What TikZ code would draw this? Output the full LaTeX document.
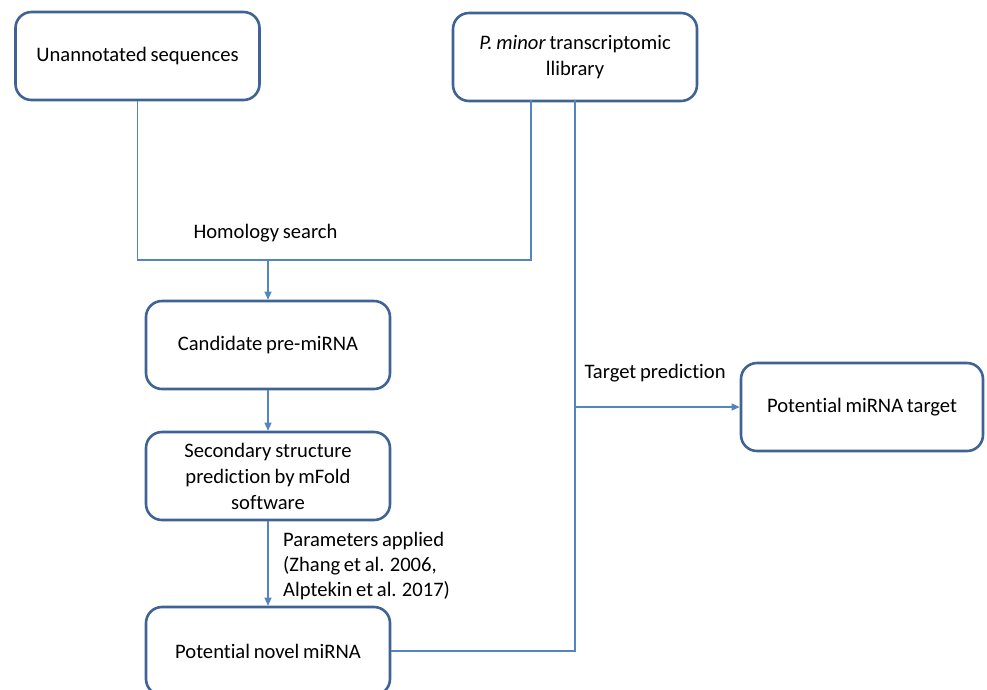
\documentclass[tikz,border=0pt]{standalone}
\usepackage{fontspec}
\setmainfont{Carlito}[Ligatures=NoCommon,WordSpace=0.8]
\usetikzlibrary{arrows.meta}
\definecolor{boxblue}{HTML}{3F6394}
\definecolor{lineblue}{HTML}{5585C0}
\begin{document}
\begin{tikzpicture}[x=1pt,y=-1pt,
  box/.style={draw=boxblue,line width=2.6pt,rounded corners=16pt,fill=white,
    minimum width=244pt,minimum height=88pt,align=center,
    font=\fontsize{20.6}{26}\selectfont},
  conn/.style={draw=lineblue,line width=1.3pt},
  arr/.style={conn,-{Triangle[length=8pt,width=7pt]}},
  lbl/.style={font=\fontsize{20.6}{25}\selectfont,align=left}]
\useasboundingbox (0,0) rectangle (987,689);
\node[box] (u) at (137.5,56) {Unannotated sequences};
\node[box] (p) at (575,57) {\textit{P. minor} transcriptomic\\llibrary};
\node[box] (c) at (268,345) {Candidate pre-miRNA};
\node[box] (s) at (268,476) {Secondary structure\\prediction by mFold\\software};
\node[box] (n) at (268,651) {Potential novel miRNA};
\node[box,minimum width=242pt] (t) at (862,407) {Potential miRNA target};
\coordinate (m) at (268,260);
\coordinate (pL) at (531,100);
\coordinate (pR) at (575,100);
\draw[conn] (u.south) |- (m) -| (pL);
\draw[arr] (m) -- (c.north);
\draw[arr] (c.south) -- (s.north);
\draw[arr] (s.south) -- (n.north);
\draw[conn] (pR) |- (n.east);
\draw[arr] (pR |- t.west) -- (t.west);
\node[lbl,anchor=west] (hl) at (190,233) {Homology search};
\node[lbl,anchor=west] (tl) at (581,373) {Target prediction};
\node[lbl,anchor=north west,inner sep=0pt] (pl) at (283,532) {Parameters applied\\(Zhang et al. 2006,\\Alptekin et al. 2017)};
\end{tikzpicture}
\end{document}
